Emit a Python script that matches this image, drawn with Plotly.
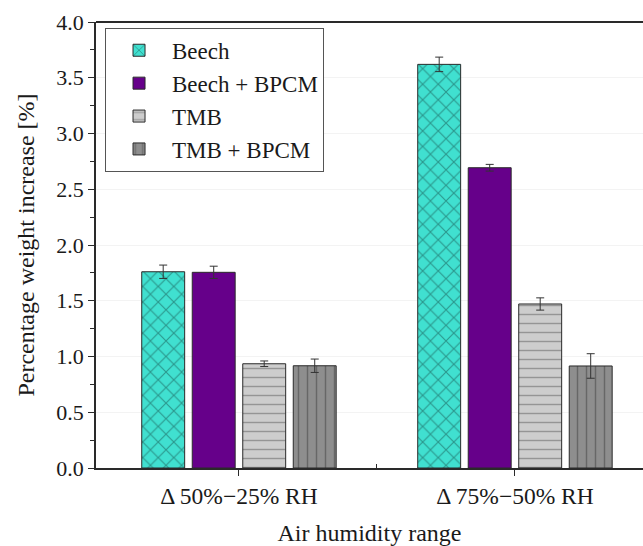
import plotly.graph_objects as go

categories = ["Δ 50%−25% RH", "Δ 75%−50% RH"]
series_names = ["Beech", "Beech + BPCM", "TMB", "TMB + BPCM"]
beech = [1.76, 3.62]
beech_err = [0.06, 0.065]
beech_bpcm = [1.755, 2.693]
beech_bpcm_err = [0.055, 0.03]
tmb = [0.935, 1.471]
tmb_err = [0.025, 0.055]
tmb_bpcm = [0.917, 0.915]
tmb_bpcm_err = [0.06, 0.11]
y_ticks = [0.0, 0.5, 1.0, 1.5, 2.0, 2.5, 3.0, 3.5, 4.0]

x_pos = list(range(len(categories)))
FONT = "'Liberation Serif', 'Times New Roman', serif"

styles = [
    dict(bg="#40e0d0", fg="#164f49", shape="x", size=11, sol=0.2),
    dict(bg="#66008a", fg="#66008a", shape="", size=8, sol=0.1),
    dict(bg="#cdcdcd", fg="#5e5e5e", shape="-", size=9, sol=0.16),
    dict(bg="#8e8e8e", fg="#404040", shape="|", size=9, sol=0.16),
]
values = [beech, beech_bpcm, tmb, tmb_bpcm]
errors = [beech_err, beech_bpcm_err, tmb_err, tmb_bpcm_err]

fig = go.Figure()
for name, vals, errs, st in zip(series_names, values, errors, styles):
    marker = dict(color=st["bg"], line=dict(color="#2a2a2a", width=1))
    if st["shape"]:
        marker["pattern"] = dict(shape=st["shape"], fgcolor=st["fg"], bgcolor=st["bg"],
                                 size=st["size"], solidity=st["sol"], fillmode="overlay")
    fig.add_trace(go.Bar(
        x=x_pos, y=vals, name=name, marker=marker,
        error_y=dict(type="data", array=errs, visible=True, color="#333333",
                     thickness=1, width=4),
    ))

fig.update_layout(
    width=643, height=546,
    margin=dict(l=96, r=0, t=22, b=78),
    paper_bgcolor="white", plot_bgcolor="white",
    barmode="group", bargap=0.268, bargroupgap=0.15,
    font=dict(family=FONT, size=22, color="#1a1a1a"),
    showlegend=True,
    legend=dict(x=0.0165, y=0.987, xanchor="left", yanchor="top",
                bordercolor="#555555", borderwidth=1, bgcolor="white",
                font=dict(family=FONT, size=23, color="#1a1a1a"),
                itemwidth=56, tracegroupgap=0),
    xaxis=dict(
        range=[-0.518, 1.464], tickmode="array", tickvals=x_pos, ticktext=categories,
        showline=True, linecolor="#2a2a2a", linewidth=1.5,
        ticks="outside", ticklen=6, tickcolor="#2a2a2a",
        minor=dict(tickmode="array", tickvals=[0.5], ticks="inside", ticklen=4,
                   tickcolor="#2a2a2a", showgrid=False),
        showgrid=False, zeroline=False,
        title=dict(text="Air humidity range", font=dict(size=24, family=FONT), standoff=17),
        tickfont=dict(size=23.5, family=FONT),
    ),
    yaxis=dict(
        range=[0, 4.0], tickmode="array", tickvals=y_ticks,
        ticktext=[f"{v:.1f}" for v in y_ticks],
        showline=True, linecolor="#2a2a2a", linewidth=1.5,
        ticks="outside", ticklen=6, tickcolor="#2a2a2a",
        minor=dict(tickmode="linear", tick0=0.25, dtick=0.5, ticks="outside", ticklen=4,
                   tickcolor="#2a2a2a", showgrid=False),
        showgrid=True, gridcolor="#f3f3f3", gridwidth=1, zeroline=False,
        title=dict(text="Percentage weight increase [%]", font=dict(size=24, family=FONT), standoff=15),
        tickfont=dict(size=22, family=FONT),
    ),
)
fig.add_shape(type="line", xref="paper", yref="paper", x0=0, x1=1, y0=1, y1=1,
              line=dict(color="#2a2a2a", width=2))

fig.write_html("out.html", config={"displayModeBar": False},
               post_script="document.body.style.margin='0px';")
